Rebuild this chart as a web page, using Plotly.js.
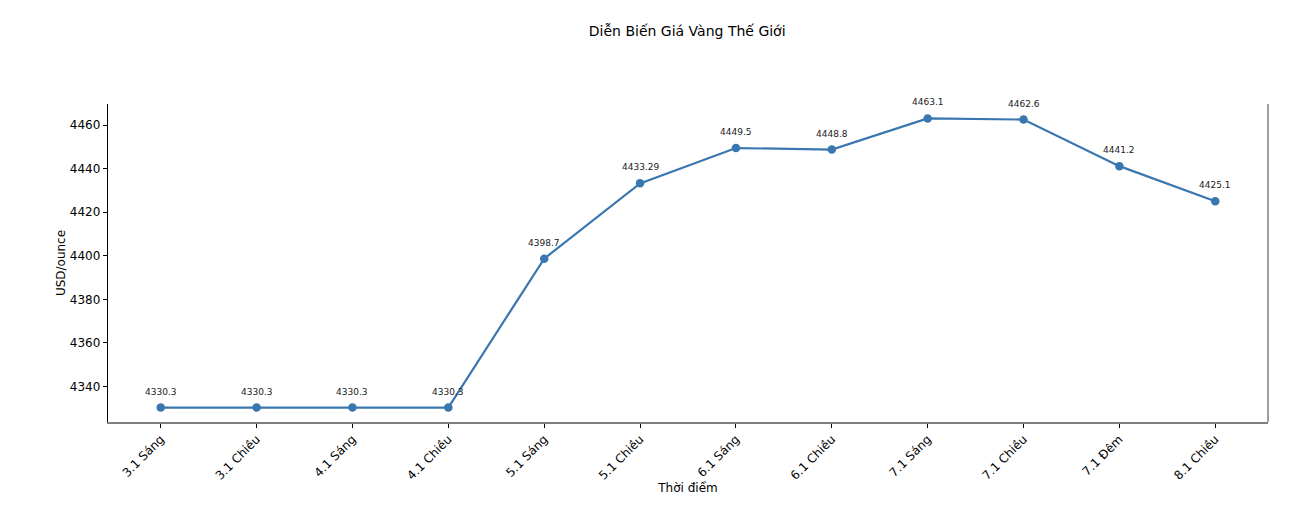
<!DOCTYPE html>
<html>
<head>
<meta charset="utf-8">
<script src="https://cdn.plot.ly/plotly-3.0.1.min.js"></script>
<style>
  html, body { margin: 0; padding: 0; background: #fff; }
  #chart { width: 1304px; height: 510px; }
</style>
</head>
<body>
<div id="chart"></div>
<script>
/* ── gold price line chart ── */

const timeLabels = ['3.1 Sáng', '3.1 Chiều', '4.1 Sáng', '4.1 Chiều', '5.1 Sáng', '5.1 Chiều',
                    '6.1 Sáng', '6.1 Chiều', '7.1 Sáng', '7.1 Chiều', '7.1 Đêm', '8.1 Chiều'];
const goldPrice  = [4330.3, 4330.3, 4330.3, 4330.3, 4398.7, 4433.29,
                    4449.5, 4448.8, 4463.1, 4462.6, 4441.2, 4425.1];
const yTicks     = [4340, 4360, 4380, 4400, 4420, 4440, 4460];

const FONT = 'DejaVu Sans, sans-serif';
const LINE_COLOR = '#3a76af';

const trace = {
  x: timeLabels,
  y: goldPrice,
  mode: 'lines+markers',
  line: { color: LINE_COLOR, width: 2.2 },
  marker: { color: LINE_COLOR, size: 8.5 },
  hoverinfo: 'skip',
};

const labels = goldPrice.map((v, i) => ({
  x: timeLabels[i],
  y: v,
  text: String(v),
  showarrow: false,
  yshift: 16,
  font: { family: FONT, size: 9, color: '#222' },
}));

const layout = {
  width: 1304,
  height: 510,
  paper_bgcolor: '#fff',
  plot_bgcolor: '#fff',
  margin: { t: 104, b: 88, l: 108, r: 36 },
  font: { family: FONT, color: '#000', size: 12 },
  showlegend: false,
  title: {
    text: 'Diễn Biến Giá Vàng Thế Giới',
    font: { family: FONT, size: 14, color: '#000' },
    x: 0.527, xanchor: 'center',
    y: 0.94, yanchor: 'middle',
  },
  xaxis: {
    type: 'category',
    range: [-0.55, 11.55],
    tickangle: -45,
    ticks: 'outside', ticklen: 4, tickcolor: '#000',
    tickfont: { family: FONT, size: 12, color: '#000' },
    showgrid: false, zeroline: false,
    showline: true, linecolor: '#7f7f7f', linewidth: 1.5,
    title: { text: 'Thời điểm', font: { family: FONT, size: 12 }, standoff: 2 },
  },
  yaxis: {
    range: [4323.66, 4469.74],
    tickvals: yTicks,
    ticks: 'outside', ticklen: 4, tickcolor: '#000',
    tickfont: { family: FONT, size: 12, color: '#000' },
    showgrid: false, zeroline: false,
    showline: true, linecolor: '#000', linewidth: 1.2,
    title: { text: 'USD/ounce', font: { family: FONT, size: 12 }, standoff: 1 },
  },
  shapes: [{
    type: 'line', xref: 'paper', yref: 'paper',
    x0: 1, x1: 1, y0: 0, y1: 1,
    line: { color: '#7f7f7f', width: 1.5 },
  }],
  annotations: labels,
};

Plotly.newPlot('chart', [trace], layout, { displayModeBar: false, staticPlot: true });
</script>
</body>
</html>
